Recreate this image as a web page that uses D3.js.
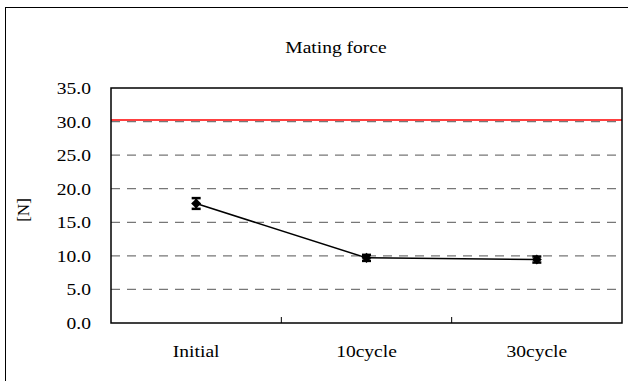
<!DOCTYPE html>
<html>
<head>
<meta charset="utf-8">
<script src="https://cdn.jsdelivr.net/npm/d3@7"></script>
<style>
  body { margin: 0; background: #fff; }
  text { font-family: "Liberation Serif", "Times New Roman", serif; }
</style>
</head>
<body>
<div id="chart"></div>
<script>
var categories = ["Initial", "10cycle", "30cycle"];
var meanForce = [17.8, 9.7, 9.45];
var errForce = [0.8, 0.45, 0.45];
var limitValue = 30.25;
var yTicks = [0, 5, 10, 15, 20, 25, 30, 35];

var svgWidth = 628;
var svgHeight = 381;
var fontSize = 17;
var stretch = 1.15; // text in the picture is a bit wide

var margin = {
    top: 88,
    right: 6,
    bottom: 58,
    left: 111
};

var plotWidth = svgWidth - margin.left - margin.right;
var plotHeight = svgHeight - margin.top - margin.bottom;

var svg = d3.select("#chart")
    .append("svg")
    .attr("width", svgWidth)
    .attr("height", svgHeight);

// outer frame
svg.append("rect")
    .attr("x", 5.5).attr("y", 7.5)
    .attr("width", svgWidth + 10).attr("height", svgHeight + 10)
    .attr("fill", "none").attr("stroke", "#000").attr("stroke-width", 1);

svg.append("text")
    .attr("transform", `translate(336,53) scale(${stretch},1)`)
    .attr("text-anchor", "middle")
    .attr("font-size", fontSize)
    .text("Mating force");

svg.append("text")
    .attr("transform", "translate(29,210) rotate(-90)")
    .attr("text-anchor", "middle")
    .attr("font-size", fontSize)
    .text("[N]");

var plot = svg.append("g")
    .attr("transform", `translate(${margin.left},${margin.top})`);

var scX = d3.scaleBand()
    .domain(categories)
    .range([0, plotWidth]);

var scY = d3.scaleLinear()
    .domain([0, 35])
    .range([plotHeight, 0]);

// dashed gridlines
plot.selectAll(".grid")
    .data(yTicks.filter(d => d > 0 && d < 35))
    .enter()
    .append("line")
    .attr("x1", 0).attr("x2", plotWidth)
    .attr("y1", d => scY(d)).attr("y2", d => scY(d))
    .attr("stroke", "#777").attr("stroke-width", 1.3)
    .attr("stroke-dasharray", "9,7");

// red limit line
plot.append("line")
    .attr("x1", 0).attr("x2", plotWidth)
    .attr("y1", scY(limitValue)).attr("y2", scY(limitValue))
    .attr("stroke", "#ff0000").attr("stroke-width", 1.5);

// plot border
plot.append("rect")
    .attr("width", plotWidth).attr("height", plotHeight)
    .attr("fill", "none").attr("stroke", "#000").attr("stroke-width", 1.5);

// y axis labels
var yAxis = d3.axisLeft(scY).tickValues(yTicks).tickSize(0).tickPadding(0)
    .tickFormat(d3.format(".1f"));
plot.append("g").call(yAxis)
    .call(g => g.select(".domain").remove())
    .selectAll("text")
    .attr("x", -20 / stretch)
    .attr("transform", `scale(${stretch},1)`)
    .attr("font-size", fontSize)
    .attr("font-family", "Liberation Serif, Times New Roman, serif")
    .attr("fill", "#000");

// x axis: category labels and inner ticks between categories
var xAxis = d3.axisBottom(scX).tickSize(0).tickPadding(22);
plot.append("g")
    .attr("transform", `translate(0,${plotHeight})`)
    .call(xAxis)
    .call(g => g.select(".domain").remove())
    .selectAll("text")
    .attr("transform", `scale(${stretch},1)`)
    .attr("font-size", fontSize)
    .attr("font-family", "Liberation Serif, Times New Roman, serif")
    .attr("fill", "#000");

plot.selectAll(".xtick")
    .data(categories.slice(1))
    .enter()
    .append("line")
    .attr("x1", d => scX(d)).attr("x2", d => scX(d))
    .attr("y1", plotHeight).attr("y2", plotHeight - 6)
    .attr("stroke", "#000").attr("stroke-width", 1);

var pts = categories.map((c, i) => ({ c: c, v: meanForce[i], e: errForce[i] }));
var cx = d => scX(d.c) + scX.bandwidth() / 2;

plot.append("path")
    .datum(pts)
    .attr("fill", "none")
    .attr("stroke", "#000")
    .attr("stroke-width", 1.5)
    .attr("d", d3.line().x(cx).y(d => scY(d.v)));

// error bars
var eb = plot.selectAll(".err").data(pts).enter().append("g");
eb.append("line")
    .attr("x1", cx).attr("x2", cx)
    .attr("y1", d => scY(d.v + d.e)).attr("y2", d => scY(d.v - d.e))
    .attr("stroke", "#000").attr("stroke-width", 2);
eb.append("line")
    .attr("x1", d => cx(d) - 4.5).attr("x2", d => cx(d) + 4.5)
    .attr("y1", d => scY(d.v + d.e)).attr("y2", d => scY(d.v + d.e))
    .attr("stroke", "#000").attr("stroke-width", 2.5);
eb.append("line")
    .attr("x1", d => cx(d) - 4.5).attr("x2", d => cx(d) + 4.5)
    .attr("y1", d => scY(d.v - d.e)).attr("y2", d => scY(d.v - d.e))
    .attr("stroke", "#000").attr("stroke-width", 2.5);

// diamond markers
plot.selectAll(".mark")
    .data(pts)
    .enter()
    .append("path")
    .attr("transform", d => `translate(${cx(d)},${scY(d.v)})`)
    .attr("d", d3.symbol().type(d3.symbolDiamond2).size(64))
    .attr("fill", "#000");
</script>
</body>
</html>
